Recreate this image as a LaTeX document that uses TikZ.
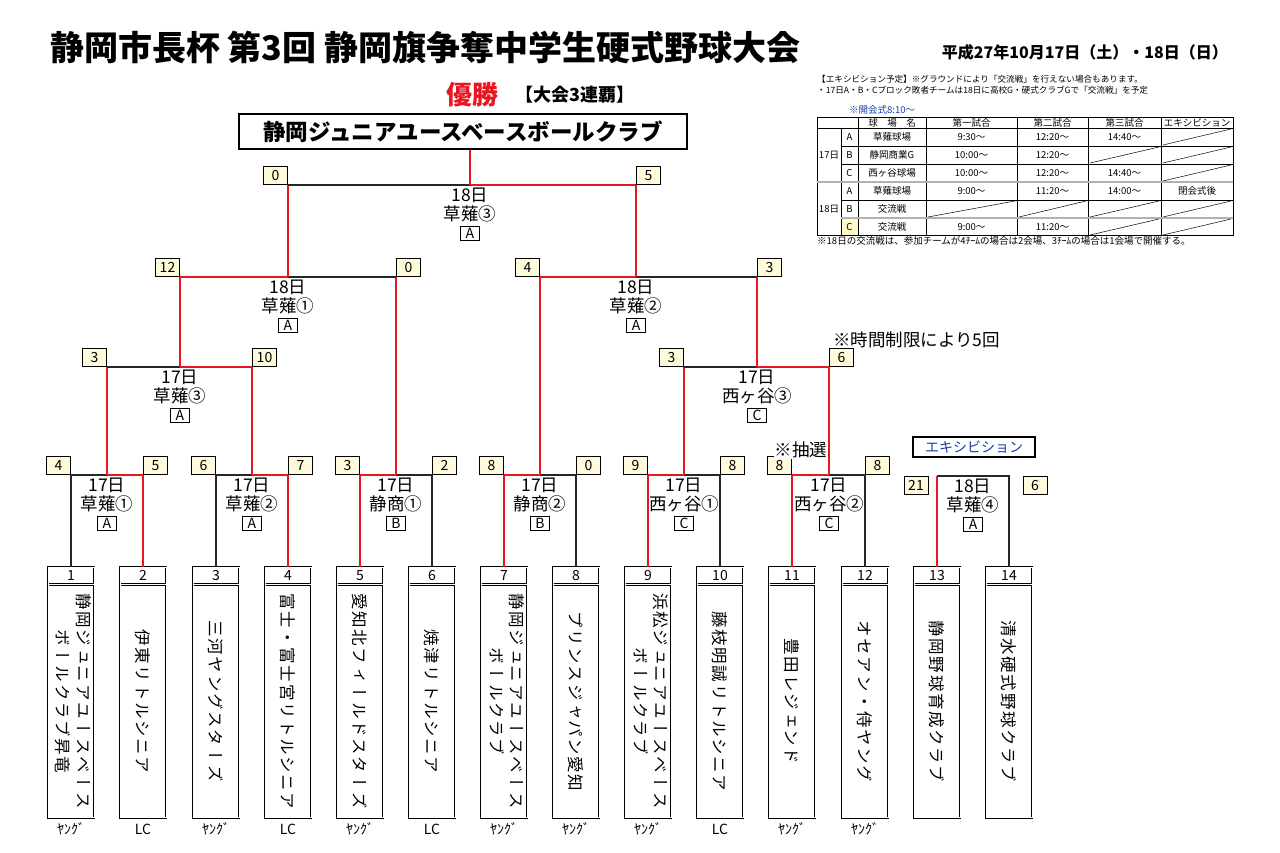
\documentclass[tikz,border=0pt]{standalone}
\usepackage{fontspec}
\usepackage{graphicx}
\setmainfont{Noto Sans CJK JP}
\newfontfamily\tate[Vertical=RotatedGlyphs, LetterSpace=10]{Noto Sans CJK JP}
\usetikzlibrary{positioning}
\definecolor{winred}{RGB}{232,22,34}
\definecolor{scorebg}{RGB}{255,251,218}
\definecolor{exblue}{RGB}{25,60,170}
\definecolor{cellyellow}{RGB}{255,250,200}
\newcommand\twocol[2]{\begin{tabular}{@{}l@{}}#1\\#2\end{tabular}}
\newcommand\blockbox[1]{{\setlength\fboxsep{1.5pt}\setlength\fboxrule{0.9pt}\fbox{\makebox[15pt]{\fontsize{14}{14}\selectfont #1}}}}

\begin{document}
\begin{tikzpicture}[x=1pt, y=-1pt,
		win/.style={draw=winred, line width=2.2pt},
		lose/.style={draw=black!85, line width=1.8pt},
		score/.style={draw, fill=scorebg, line width=1pt, minimum width=24pt, minimum height=18pt, inner sep=0pt, font=\fontsize{14}{14}\selectfont},
		numcell/.style={draw, double, double distance=0.9pt, line width=0.9pt, minimum width=46pt, minimum height=17pt, inner sep=0pt, font=\fontsize{14}{14}\selectfont},
		namebox/.style={numcell, minimum height=233pt, font=\tate\fontsize{16.5}{20}\selectfont},
		league/.style={inner sep=0pt, font=\fontsize{14}{14}\selectfont},
		info/.style={anchor=north, yshift=-3pt, align=center, inner sep=0pt, font=\fontsize{17.5}{18.5}\selectfont},
		cell/.style={inner sep=0pt, font=\fontsize{9.5}{10}\selectfont}]
		\useasboundingbox (0,0) rectangle (1280,853);

		% title
		\node[anchor=west, inner sep=0pt, font=\fontsize{34}{34}\selectfont\bfseries] (title) at (50,47) {静岡市長杯 第3回 静岡旗争奪中学生硬式野球大会};
		\node[anchor=east, inner sep=0pt, font=\fontsize{16}{16}\selectfont\bfseries] (date) at (1228,52) {平成27年10月17日（土）・18日（日）};
		\node[text=winred, inner sep=0pt, font=\fontsize{26}{26}\selectfont\bfseries] (yusho) at (472,95) {優勝};
		\node[inner sep=0pt, font=\fontsize{18}{18}\selectfont\bfseries] (renpa) at (575,95) {【大会3連覇】};
		\node[draw, line width=1.6pt, minimum width=448pt, minimum height=35pt, font=\fontsize{22.5}{22.5}\selectfont\bfseries] (champ) at (463,131.5) {静岡ジュニアユースベースボールクラブ};

		% teams
		\foreach \x/\nm/\lg [count=\i] in {
				71/{\twocol{静岡ジュニアユースベース}{　　ボールクラブ昇竜}}/ﾔﾝｸﾞ,
				143/伊東リトルシニア/LC,
				216/三河ヤングスターズ/ﾔﾝｸﾞ,
				288/富士・富士宮リトルシニア/LC,
				360/愛知北フィールドスターズ/ﾔﾝｸﾞ,
				432/焼津リトルシニア/LC,
				504/{\twocol{静岡ジュニアユースベース}{　　　ボールクラブ}}/ﾔﾝｸﾞ,
				576/プリンスジャパン愛知/ﾔﾝｸﾞ,
				648/{\twocol{浜松ジュニアユースベース}{　　　ボールクラブ}}/ﾔﾝｸﾞ,
				720/藤枝明誠リトルシニア/LC,
				792/豊田レジェンド/ﾔﾝｸﾞ,
				865/オセアン・侍ヤング/ﾔﾝｸﾞ,
				937/静岡野球育成クラブ/{},
				1009/清水硬式野球クラブ/{}} {
			\node[numcell] (n\i) at (\x,575.5) {\i};
			\node[namebox, below=0pt of n\i] (t\i) {\rotatebox{-90}{\nm}};
			\node[league] (g\i) at (\x,829) {\lg};
		}

		% junctions
		\coordinate (m1) at (107,475);
		\coordinate (m2) at (252,475);
		\coordinate (m3) at (396,475);
		\coordinate (m4) at (540,475);
		\coordinate (m5) at (684,475);
		\coordinate (m6) at (829,475);
		\coordinate (mx) at (973,476);
		\coordinate (q1) at (180,367);
		\coordinate (q2) at (757,367);
		\coordinate (s1) at (288,277);
		\coordinate (s2) at (636,277);
		\coordinate (fin) at (470,185);

		% round 1
		\draw[lose] (n1.north) |- (m1);
		\draw[win] (m1) -| (n2.north);
		\draw[lose] (n3.north) |- (m2);
		\draw[win] (m2) -| (n4.north);
		\draw[win] (n5.north) |- (m3);
		\draw[lose] (m3) -| (n6.north);
		\draw[win] (n7.north) |- (m4);
		\draw[lose] (m4) -| (n8.north);
		\draw[win] (n9.north) |- (m5);
		\draw[lose] (m5) -| (n10.north);
		\draw[win] (n11.north) |- (m6);
		\draw[lose] (m6) -| (n12.north);
		\draw[lose] (mx -| n13.north) -| (n14.north);
		\draw[win] (n13.north) -- (mx -| n13.north);

		% round 2
		\draw[win] (m1) -- (m1 |- q1);
		\draw[lose] (m1 |- q1) -- (q1);
		\draw[win] (m2) |- (q1);
		\draw[win] (m5) -- (m5 |- q2);
		\draw[lose] (m5 |- q2) -- (q2);
		\draw[win] (m6) |- (q2);

		% semi finals
		\draw[win] (q1) |- (s1);
		\draw[win] (m3) -- (m3 |- s1);
		\draw[lose] (m3 |- s1) -- (s1);
		\draw[win] (m4) |- (s2);
		\draw[win] (q2) -- (q2 |- s2);
		\draw[lose] (q2 |- s2) -- (s2);

		% final
		\draw[win] (s1) -- (s1 |- fin);
		\draw[lose] (s1 |- fin) -- (fin);
		\draw[win] (s2) |- (fin);
		\draw[win] (fin) -- (fin |- champ.south);

		% scores
		\node[score, anchor=south east] (a1) at (m1 -| n1.north) {4};
		\node[score, anchor=south west] (b1) at (m1 -| n2.north) {5};
		\node[score, anchor=south east] (a2) at (m2 -| n3.north) {6};
		\node[score, anchor=south west] (b2) at (m2 -| n4.north) {7};
		\node[score, anchor=south east] (a3) at (m3 -| n5.north) {3};
		\node[score, anchor=south west] (b3) at (m3 -| n6.north) {2};
		\node[score, anchor=south east] (a4) at (m4 -| n7.north) {8};
		\node[score, anchor=south west] (b4) at (m4 -| n8.north) {0};
		\node[score, anchor=south east] (a5) at (m5 -| n9.north) {9};
		\node[score, anchor=south west] (b5) at (m5 -| n10.north) {8};
		\node[score, anchor=south east] (a6) at (m6 -| n11.north) {8};
		\node[score, anchor=south west] (b6) at (m6 -| n12.north) {8};
		\node[score] (ax) at (916,485.5) {21};
		\node[score] (bx) at (1035,485.5) {6};
		\node[score, anchor=south east] (a7) at (q1 -| m1) {3};
		\node[score, anchor=south west] (b7) at (q1 -| m2) {10};
		\node[score, anchor=south east] (a8) at (q2 -| m5) {3};
		\node[score, anchor=south west] (b8) at (q2 -| m6) {6};
		\node[score, anchor=south east] (a9) at (s1 -| q1) {12};
		\node[score, anchor=south west] (b9) at (s1 -| m3) {0};
		\node[score, anchor=south east] (a10) at (s2 -| m4) {4};
		\node[score, anchor=south west] (b10) at (s2 -| q2) {3};
		\node[score, anchor=south east] (a11) at (fin -| s1) {0};
		\node[score, anchor=south west] (b11) at (fin -| s2) {5};

		% game info
		\node[info] (i1) at (m1) {17日\\草薙①\\\blockbox{A}};
		\node[info] (i2) at (m2) {17日\\草薙②\\\blockbox{A}};
		\node[info] (i3) at (m3) {17日\\静商①\\\blockbox{B}};
		\node[info] (i4) at (m4) {17日\\静商②\\\blockbox{B}};
		\node[info] (i5) at (m5) {17日\\西ヶ谷①\\\blockbox{C}};
		\node[info] (i6) at (m6) {17日\\西ヶ谷②\\\blockbox{C}};
		\node[info] (ix) at (mx) {18日\\草薙④\\\blockbox{A}};
		\node[info] (i7) at (q1) {17日\\草薙③\\\blockbox{A}};
		\node[info] (i8) at (q2) {17日\\西ヶ谷③\\\blockbox{C}};
		\node[info] (i9) at (s1) {18日\\草薙①\\\blockbox{A}};
		\node[info] (i10) at (s2) {18日\\草薙②\\\blockbox{A}};
		\node[info] (i11) at (fin) {18日\\草薙③\\\blockbox{A}};

		\node[fill=white, inner sep=1pt, font=\fontsize{17.5}{17.5}\selectfont] (lot) at (801,450) {※抽選};
		\node[anchor=west, inner sep=0pt, font=\fontsize{17.5}{17.5}\selectfont] (limit) at (833,340) {※時間制限により5回};
		\node[draw, line width=1.2pt, text=exblue, minimum width=122pt, minimum height=20pt, inner sep=0pt, font=\fontsize{14}{14}\selectfont] (exh) at (974,447) {エキシビション};

		% schedule
		\node[cell, anchor=west, font=\fontsize{8.6}{10}\selectfont] (note1) at (817,79) {【エキシビション予定】※グラウンドにより「交流戦」を行えない場合もあります。};
		\node[cell, anchor=west, font=\fontsize{8.6}{10}\selectfont] (note2) at (817,90) {・17日A・B・Cブロック敗者チームは18日に高校G・硬式クラブGで「交流戦」を予定};
		\node[cell, anchor=west, text=exblue] (open) at (849,110) {※開会式8:10～};
		\node[cell, anchor=west] (foot) at (817,241) {※18日の交流戦は、参加チームが4ﾁｰﾑの場合は2会場、3ﾁｰﾑの場合は1会場で開催する。};
		\fill[cellyellow] (841,218) rectangle (858,235);
		\draw[line width=0.8pt] (817,117) rectangle (1233,235);
		\foreach \x in {858,926,1017,1088,1161} \draw[line width=0.6pt] (\x,117) -- (\x,235);
		\draw[line width=0.6pt] (841,128) -- (841,235);
		\draw[line width=0.6pt] (817,128) -- (1233,128);
		\foreach \y in {146,164,200} \draw[line width=0.6pt] (841,\y) -- (1233,\y);
		\draw[gray!60, line width=2.4pt] (817,182) -- (1233,182);
		\draw[gray!60, line width=2.4pt] (841,218) -- (1233,218);
		\foreach \i/\xa/\xb in {1/1161/1233, 2/1088/1161, 2/1161/1233, 3/1161/1233, 5/926/1017, 5/1017/1088, 5/1088/1161, 5/1161/1233, 6/1088/1161, 6/1161/1233}
			\draw[line width=0.5pt] (\xa+2,{127+18*\i}) -- (\xb-2,{111+18*\i});
		\foreach \t/\x [count=\j] in {球　場　名/892, 第一試合/971.5, 第二試合/1052.5, 第三試合/1124.5, エキシビション/1197}
			\node[cell] (hd\j) at (\x,122.5) {\t};
		\node[cell] (day17) at (829,155) {17日};
		\node[cell] (day18) at (829,209) {18日};
		\foreach \t [count=\i] in {A,B,C,A,B,C}
			\node[cell] (blk\i) at (849.5,{119+18*\i}) {\t};
		\foreach \t [count=\i] in {草薙球場,静岡商業G,西ヶ谷球場,草薙球場,交流戦,交流戦}
			\node[cell] (fld\i) at (892,{119+18*\i}) {\t};
		\foreach \t/\i/\x [count=\k] in {9:30～/1/971.5, 12:20～/1/1052.5, 14:40～/1/1124.5, 10:00～/2/971.5, 12:20～/2/1052.5, 10:00～/3/971.5, 12:20～/3/1052.5, 14:40～/3/1124.5, 9:00～/4/971.5, 11:20～/4/1052.5, 14:00～/4/1124.5, 閉会式後/4/1197, 9:00～/6/971.5, 11:20～/6/1052.5}
			\node[cell] (tm\k) at (\x,{119+18*\i}) {\t};
	\end{tikzpicture}
\end{document}
